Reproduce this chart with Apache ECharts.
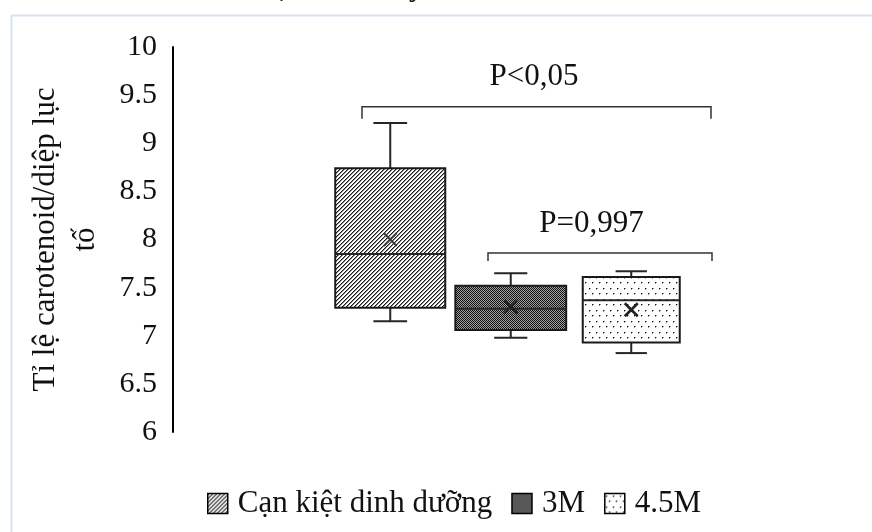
<!DOCTYPE html>
<html>
<head>
<meta charset="utf-8">
<script src="https://cdn.jsdelivr.net/npm/echarts@6/dist/echarts.min.js"></script>
<style>
html,body{margin:0;padding:0;background:#fff;}
#c{width:872px;height:532px;}
</style>
</head>
<body>
<div id="c"></div>
<script>
// ---- data ----
const groups = ['Cạn kiệt dinh dưỡng', '3M', '4.5M'];
const minVals = [7.15, 6.98, 6.82];
const q1Vals = [7.29, 7.06, 6.93];
const medianVals = [7.85, 7.28, 7.37];
const q3Vals = [8.74, 7.52, 7.61];
const maxVals = [9.21, 7.65, 7.67];
const meanVals = [8.0, 7.3, 7.27];
const yMin = 6, yMax = 10, yStep = 0.5;
const yAxisTitle = 'Tỉ lệ carotenoid/diệp lục\ntố';
const compLabels = ['P<0,05', 'P=0,997'];
const compLevels = [9.38, 7.86];

// ---- fill patterns ----
function makePattern(w, h, draw) {
  const c = document.createElement('canvas');
  c.width = w; c.height = h;
  const ctx = c.getContext('2d');
  ctx.fillStyle = '#ffffff';
  ctx.fillRect(0, 0, w, h);
  draw(ctx);
  return { image: c, repeat: 'repeat' };
}
function px(ctx, x, y, col) { ctx.fillStyle = col; ctx.fillRect(x, y, 1, 1); }
const hatch = makePattern(8, 8, ctx => {
  for (let x = 0; x < 8; x++) for (let y = 0; y < 8; y++) {
    const k = (x + y) % 4;
    if (k === 0) px(ctx, x, y, '#1a1a1a');
    else if (k === 1) px(ctx, x, y, '#8a8a8a');
  }
});
const checker = makePattern(2, 2, ctx => {
  px(ctx, 0, 0, '#111111'); px(ctx, 1, 1, '#111111');
  px(ctx, 1, 0, '#a0a0a0'); px(ctx, 0, 1, '#a0a0a0');
});
const dots = makePattern(7, 11, ctx => {
  [[1, 2], [4, 7]].forEach(([x, y]) => {
    px(ctx, x, y, '#111111');
    px(ctx, x + 1, y, '#999999');
    px(ctx, x, y + 1, '#999999');
  });
});
const patterns = [hatch, checker, dots];

const boxFrac = [0.913, 0.92, 0.805];
const capFrac = [0.28, 0.275, 0.26];
const meanStyle = [
  { stroke: '#3a3a3a', lineWidth: 2 },
  { stroke: '#222', lineWidth: 2.6 },
  { stroke: '#222', lineWidth: 2.6 }
];
const FONT = 'Liberation Serif';

function renderBox(si) {
  return function (params, api) {
    const ci = api.value(0);
    const band = api.size([1, 0])[0];
    const cx = api.coord([ci, yMin])[0];
    const Y = v => api.coord([ci, v])[1];
    const pMin = Y(api.value(1)), pQ1 = Y(api.value(2)), pMed = Y(api.value(3)),
          pQ3 = Y(api.value(4)), pMax = Y(api.value(5)), pMean = Y(api.value(6));
    const w = band * boxFrac[si], cw = band * capFrac[si];
    const line = (x1, y1, x2, y2, st) => ({
      type: 'line', shape: { x1, y1, x2, y2 },
      style: Object.assign({ stroke: '#262626', lineWidth: 2 }, st || {})
    });
    const m = 6.5;
    return {
      type: 'group',
      children: [
        line(cx, pMax, cx, pQ3), line(cx, pQ1, cx, pMin),
        line(cx - cw / 2, pMax, cx + cw / 2, pMax),
        line(cx - cw / 2, pMin, cx + cw / 2, pMin),
        { type: 'rect', shape: { x: cx - w / 2, y: pQ3, width: w, height: pQ1 - pQ3 },
          style: { fill: patterns[si], stroke: '#1a1a1a', lineWidth: 2 } },
        line(cx - w / 2, pMed, cx + w / 2, pMed),
        line(cx - m, pMean - m, cx + m, pMean + m, meanStyle[si]),
        line(cx - m, pMean + m, cx + m, pMean - m, meanStyle[si])
      ]
    };
  };
}

const series = groups.map((g, i) => ({
  name: g,
  type: 'custom',
  renderItem: renderBox(i),
  itemStyle: { color: patterns[i], borderColor: '#000' },
  encode: { x: 0, y: [1, 2, 3, 4, 5] },
  data: [[i, minVals[i], q1Vals[i], medianVals[i], q3Vals[i], maxVals[i], meanVals[i]]],
  silent: true
}));

const chart = echarts.init(document.getElementById('c'), null, { renderer: 'canvas' });
const option = {
  animation: false,
  backgroundColor: '#ffffff',
  grid: { left: 330, right: 180.5, top: 47, bottom: 100 },
  xAxis: { type: 'category', data: groups, show: false },
  yAxis: {
    type: 'value', min: yMin, max: yMax, interval: yStep, offset: 157,
    axisLine: { show: true, lineStyle: { color: '#000', width: 2 } },
    axisTick: { show: false },
    splitLine: { show: false },
    axisLabel: { fontFamily: FONT, fontSize: 30, color: '#111', margin: 16 },
    name: yAxisTitle, nameLocation: 'middle', nameRotate: 90, nameGap: 67,
    nameTextStyle: { fontFamily: FONT, fontSize: 31, color: '#111', lineHeight: 40 }
  },
  legend: {
    left: 202, top: 483, itemWidth: 20, itemHeight: 20, itemGap: 19, icon: 'rect',
    selectedMode: false,
    textStyle: { fontFamily: FONT, fontSize: 31, color: '#111', lineHeight: 20, padding: [0, 0, 0, 5] },
    data: groups.map((g, i) => ({ name: g, itemStyle: { color: patterns[i], borderColor: '#000', borderWidth: 1.5 } }))
  },
  series: series
};
chart.setOption(option);

const yp = v => chart.convertToPixel({ yAxisIndex: 0 }, v);
const br1 = yp(compLevels[0]), br2 = yp(compLevels[1]);
const bStyle = { stroke: '#333', lineWidth: 1.5, fill: null };
chart.setOption({
  graphic: [
    { type: 'line', shape: { x1: 11.5, y1: 15, x2: 11.5, y2: 532 }, style: { stroke: '#d9e2f2', lineWidth: 2 }, silent: true },
    { type: 'line', shape: { x1: 11, y1: 15.5, x2: 872, y2: 15.5 }, style: { stroke: '#d9e2f2', lineWidth: 2 }, silent: true },
    { type: 'polyline', shape: { points: [[362, br1 + 12], [362, br1], [711, br1], [711, br1 + 12]] }, style: bStyle, silent: true },
    { type: 'polyline', shape: { points: [[488, br2 + 8], [488, br2], [712, br2], [712, br2 + 8]] }, style: bStyle, silent: true },
    { type: 'text', x: 534, y: br1 - 30, style: { text: compLabels[0], font: '31px "' + FONT + '"', fill: '#111', textAlign: 'center', textVerticalAlign: 'middle' }, silent: true },
    { type: 'text', x: 591.5, y: br2 - 29.5, style: { text: compLabels[1], font: '31px "' + FONT + '"', fill: '#111', textAlign: 'center', textVerticalAlign: 'middle' }, silent: true },
    { type: 'text', x: 282, y: -12, style: { text: 'ạ', font: '30px "' + FONT + '"', fill: '#111', textAlign: 'center', textVerticalAlign: 'middle' }, silent: true },
    { type: 'text', x: 409, y: -12, style: { text: 'y', font: '30px "' + FONT + '"', fill: '#111', textAlign: 'left', textVerticalAlign: 'middle' }, silent: true }
  ]
});
</script>
</body>
</html>
